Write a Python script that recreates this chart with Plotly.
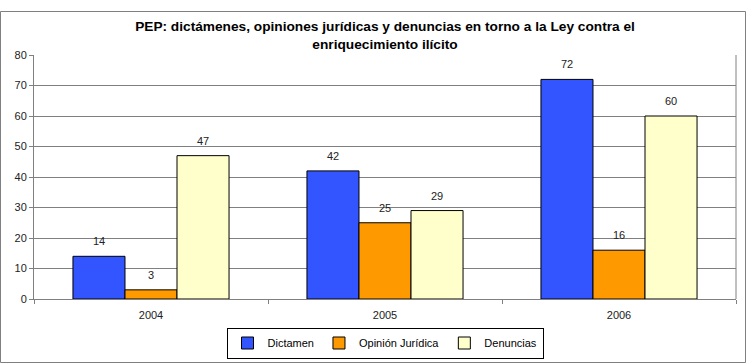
import plotly.graph_objects as go

years = ["2004", "2005", "2006"]
dictamen = [14, 42, 72]
opinion = [3, 25, 16]
denuncias = [47, 29, 60]
series_names = ["Dictamen", "Opinión Jurídica", "Denuncias"]
colors = ["#3355FF", "#FF9900", "#FFFFCC"]

W, H = 747, 363
L, R, T, B = 34, 11, 55, 64
pw, ph = W - L - R, H - T - B

fig = go.Figure()
annotations = []
bar_px = pw / 3 * (1 - 0.333) / 3
for i, (name, vals, c) in enumerate(zip(series_names, [dictamen, opinion, denuncias], colors)):
    fig.add_trace(go.Bar(
        x=years, y=vals, name=name,
        marker=dict(color=c, line=dict(color="#000000", width=1)),
    ))
    for j, v in enumerate(vals):
        annotations.append(dict(
            x=j, y=v, xref="x", yref="y", text=str(v), showarrow=False,
            xshift=(i - 1) * bar_px, yshift=15, yanchor="middle",
            font=dict(family="Liberation Sans, Arial", size=11, color="#222222"),
        ))

def px2paper_x(px):
    return (px - L) / pw

def px2paper_y(py):
    return (H - B - py) / ph

fig.update_layout(
    width=W, height=H,
    margin=dict(l=L, r=R, t=T, b=B, autoexpand=False),
    paper_bgcolor="white", plot_bgcolor="white",
    barmode="group", bargap=0.333, bargroupgap=0,
    font=dict(family="Liberation Sans, Arial", size=11, color="#222222"),
    title=dict(
        text="<b>PEP: dictámenes, opiniones jurídicas y denuncias en torno a la Ley contra el<br>enriquecimiento ilícito</b>",
        x=0.5, xref="paper", xanchor="center",
        y=1 - 31 / H, yanchor="middle",
        font=dict(family="Liberation Sans, Arial", size=13.7, color="#000000"),
    ),
    showlegend=True,
    legend=dict(
        orientation="h", x=px2paper_x(385), xanchor="center",
        y=px2paper_y(343), yanchor="middle",
        bordercolor="#000000", borderwidth=1,
        font=dict(size=11, color="#000000"),
        itemwidth=30,
    ),
    xaxis=dict(
        type="category", range=[-0.5, 2.5],
        showgrid=False, showline=True, linecolor="#808080", linewidth=1,
        ticks="outside", tickson="boundaries", ticklen=4, tickcolor="#808080",
        tickfont=dict(size=11), automargin=False, tickangle=0,
        ticklabelstandoff=6,
    ),
    yaxis=dict(
        range=[0, 80], dtick=10, showgrid=True, gridcolor="#808080", gridwidth=1,
        showline=True, linecolor="#808080", linewidth=1,
        ticks="outside", ticklen=4, tickcolor="#808080",
        tickfont=dict(size=11), zeroline=False, automargin=False,
    ),
    annotations=annotations,
    shapes=[
        dict(type="rect", xref="paper", yref="paper",
             x0=px2paper_x(0.5), x1=px2paper_x(745.5),
             y0=px2paper_y(362.5), y1=px2paper_y(11.5),
             line=dict(color="#808080", width=1), layer="below"),
        dict(type="line", xref="paper", yref="paper",
             x0=1, x1=1, y0=0, y1=1,
             line=dict(color="#808080", width=1)),
    ],
)

fig.write_html("out.html")
